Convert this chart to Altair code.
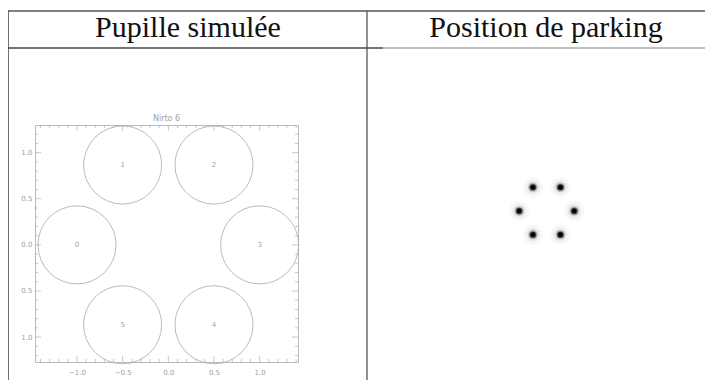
import altair as alt
import pandas as pd

# ---- data ----
pupil_ids = ["0", "1", "2", "3", "4", "5"]
pupil_x = [-1.0, -0.5, 0.5, 1.0, 0.5, -0.5]
pupil_y = [0.0, 0.866, 0.866, 0.0, -0.866, -0.866]

park_x = [-1.0, -0.5, 0.5, 1.0, 0.5, -0.5]
park_y = [0.0, 0.866, 0.866, 0.0, -0.866, -0.866]

x_major = [-1.0, -0.5, 0.0, 0.5, 1.0]
x_minor = [-1.4, -1.3, -1.2, -1.1, -0.9, -0.8, -0.7, -0.6, -0.4, -0.3, -0.2, -0.1,
           0.1, 0.2, 0.3, 0.4, 0.6, 0.7, 0.8, 0.9, 1.1, 1.2, 1.3, 1.4]
y_major = [-1.0, -0.5, 0.0, 0.5, 1.0]
y_minor = [-1.2, -1.1, -0.9, -0.8, -0.7, -0.6, -0.4, -0.3, -0.2, -0.1,
           0.1, 0.2, 0.3, 0.4, 0.6, 0.7, 0.8, 0.9, 1.1, 1.2]

headers = ["Pupille simulée", "Position de parking"]
plot_title = "Nirto 6"

# ---- layout constants (pixels) ----
W, H = 263, 237
XDOM = [-1.46, 1.42]
YDOM = [-1.27, 1.30]
GRID = "#b0b0b0"
LINE = "#444444"
SERIF = "'Liberation Serif', 'DejaVu Serif', serif"

pupils = pd.DataFrame({"id": pupil_ids, "x": pupil_x, "y": pupil_y})
parks = pd.DataFrame({"x": park_x, "y": park_y})

xs = alt.Scale(domain=XDOM, nice=False, zero=False)
ys = alt.Scale(domain=YDOM, nice=False, zero=False)

x_axis = alt.Axis(values=x_major, format=".1f", labelFontSize=7, labelColor="#a0a0a0",
                  labelFont="DejaVu Sans", ticks=False, domain=False, grid=False,
                  labelPadding=6, title=None)
y_axis = alt.Axis(values=y_major, labelExpr="format(abs(datum.value), '.1f')",
                  labelFontSize=7, labelColor="#a0a0a0", labelFont="DejaVu Sans",
                  ticks=False, domain=False, grid=False, labelPadding=3, title=None)

circles = alt.Chart(pupils).mark_point(
    shape="circle", filled=False, size=6100, color="#a8a8a8", strokeWidth=0.8, opacity=1
).encode(
    x=alt.X("x:Q", scale=xs, axis=x_axis),
    y=alt.Y("y:Q", scale=ys, axis=y_axis),
)

labels = alt.Chart(pupils).mark_text(
    fontSize=7, color="#a0a0a0", font="DejaVu Sans"
).encode(x=alt.X("x:Q", scale=xs), y=alt.Y("y:Q", scale=ys), text="id:N")


def xticks(vals, length):
    d = pd.DataFrame({"v": vals})
    b = alt.Chart(d).mark_rule(color=GRID, strokeWidth=0.7).encode(
        x=alt.X("v:Q", scale=xs), y=alt.value(H), y2=alt.value(H - length))
    t = alt.Chart(d).mark_rule(color=GRID, strokeWidth=0.7).encode(
        x=alt.X("v:Q", scale=xs), y=alt.value(0), y2=alt.value(length))
    return [b, t]


def yticks(vals, length):
    d = pd.DataFrame({"v": vals})
    l = alt.Chart(d).mark_rule(color=GRID, strokeWidth=0.7).encode(
        y=alt.Y("v:Q", scale=ys), x=alt.value(0), x2=alt.value(length))
    r = alt.Chart(d).mark_rule(color=GRID, strokeWidth=0.7).encode(
        y=alt.Y("v:Q", scale=ys), x=alt.value(W), x2=alt.value(W - length))
    return [l, r]


tick_layers = xticks(x_major, 6) + xticks(x_minor, 3) + yticks(y_major, 6) + yticks(y_minor, 3)

left = alt.layer(circles, labels, *tick_layers)

# parking positions (independent scales placed in the right cell)
pxs = alt.Scale(domain=[-1, 1], range=[484.2, 539.2], nice=False, zero=False)
pys = alt.Scale(domain=[-1, 1], range=[113.4, 58.6], nice=False, zero=False)


def dot(size, color):
    return alt.Chart(parks).mark_point(
        shape="circle", filled=True, size=size, color=color, opacity=1
    ).encode(x=alt.X("x:Q", scale=pxs, axis=None), y=alt.Y("y:Q", scale=pys, axis=None))


right = alt.layer(dot(420, "#f8f8f8"), dot(200, "#ececec"), dot(95, "#bdbdbd"),
                  dot(50, "#666666"), dot(28, "#1a1a1a"), dot(14, "#000000"))


def rule(x1, x2, y1, y2, color=LINE, w=1.3):
    return alt.Chart(pd.DataFrame({"a": [0]})).mark_rule(color=color, strokeWidth=w).encode(
        x=alt.value(x1), x2=alt.value(x2), y=alt.value(y1), y2=alt.value(y2))


decor = [
    rule(-28, 680, -114, -114, "#555555", 1.4),   # top line
    rule(-27, -27, -114, 260, "#222222", 1.3),     # left border
    rule(332, 332, -114, 260, "#555555", 1.3),     # middle line
    rule(-28, 348, -77, -77, "#444444", 1.3),      # header separator (dark)
    rule(348, 680, -77, -77, "#aaaaaa", 1.3),      # header separator (light)
]

hdr = pd.DataFrame({"t": headers})
h1 = alt.Chart(hdr.iloc[[0]]).mark_text(
    font=SERIF, fontSize=30, color="#111111", baseline="alphabetic", align="center"
).encode(text="t:N", x=alt.value(153), y=alt.value(-88))
h2 = alt.Chart(hdr.iloc[[1]]).mark_text(
    font=SERIF, fontSize=30, color="#111111", baseline="alphabetic", align="center"
).encode(text="t:N", x=alt.value(511), y=alt.value(-88))

ttl = alt.Chart(pd.DataFrame({"t": [plot_title]})).mark_text(
    font="DejaVu Sans", fontSize=8, color="#a0a0a0", baseline="alphabetic", align="center"
).encode(text="t:N", x=alt.value(W / 2), y=alt.value(-4))

chart = alt.layer(left, right, *decor, h1, h2, ttl).resolve_scale(
    x="independent", y="independent"
).properties(
    width=W, height=H,
    autosize=alt.AutoSizeParams(type="none"),
    padding={"left": 27, "top": 117, "right": 407, "bottom": 18},
    background="white",
).configure_view(stroke="#bbbbbb", strokeWidth=1)

chart.save("out.html", embed_options={"renderer": "svg", "actions": False})
